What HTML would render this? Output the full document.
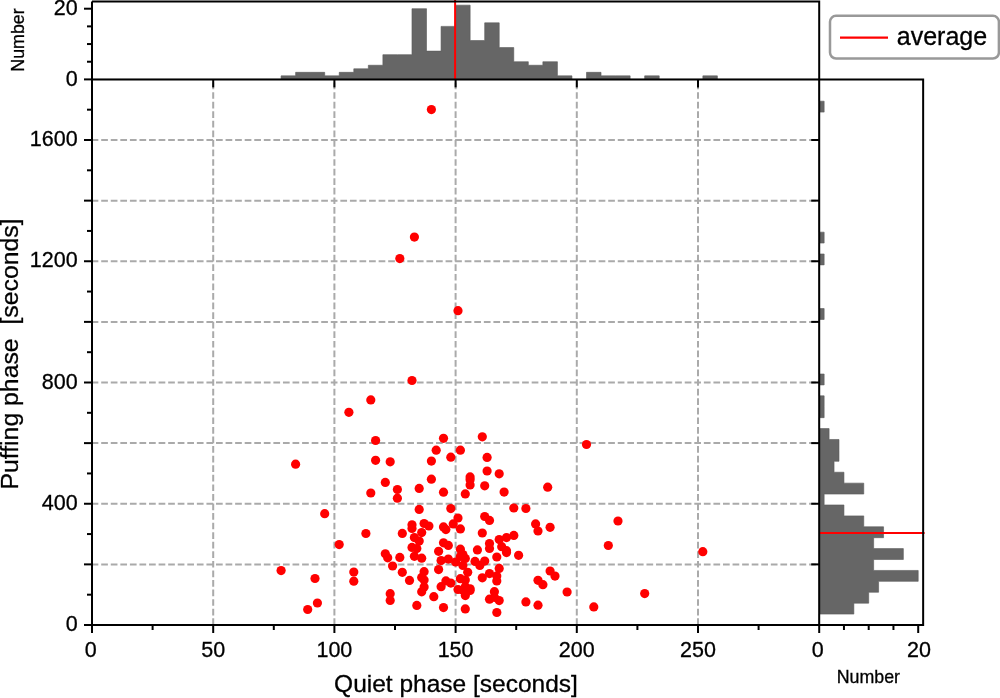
<!DOCTYPE html><html><head><meta charset="utf-8"><style>html,body{margin:0;padding:0;background:#fff;width:1000px;height:698px;overflow:hidden}svg{display:block}text{font-family:"Liberation Sans",sans-serif;fill:#000;stroke:#000;stroke-width:0.3px}svg{will-change:transform}</style></head><body>
<svg width="1000" height="698" viewBox="0 0 1000 698">
<path d="M92.00,79.40V79.40H106.54V79.40H121.09V79.40H135.63V79.40H150.18V79.40H164.72V79.40H179.26V79.40H193.81V79.40H208.35V79.40H222.90V79.40H237.44V79.40H251.98V79.40H266.53V79.40H281.07V75.87H295.62V72.33H310.16V72.33H324.70V75.87H339.25V72.33H353.79V68.80H368.34V65.26H382.88V54.66H397.42V54.66H411.97V8.70H426.51V51.12H441.06V26.38H455.60V5.17H470.14V40.52H484.69V22.84H499.23V47.59H513.78V61.73H528.32V65.26H542.86V61.73H557.41V75.87H571.95V79.40H586.50V72.33H601.04V75.87H615.58V75.87H630.13V79.40H644.67V75.87H659.22V79.40H673.76V79.40H688.30V79.40H702.85V75.87H717.39V79.40H731.94V79.40H746.48V79.40H761.02V79.40H775.57V79.40H790.11V79.40H804.66V79.40H819.20V79.40Z" fill="#666666" stroke="#5a5a5a" stroke-width="0.6"/>
<path d="M819.20,625.00H819.20V614.09H853.85V603.17H868.70V592.26H878.60V581.35H918.20V570.44H873.65V559.52H903.35V548.61H873.65V537.70H883.55V526.79H863.75V515.88H843.95V504.96H824.15V494.05H863.75V483.14H843.95V472.23H834.05V461.31H839.00V450.40H839.00V439.49H829.10V428.58H819.20V417.66H824.15V406.75H824.15V395.84H819.20V384.93H824.15V374.01H819.20V363.10H819.20V352.19H819.20V341.28H819.20V330.36H819.20V319.45H824.15V308.54H819.20V297.62H819.20V286.71H819.20V275.80H819.20V264.89H824.15V253.98H819.20V243.06H824.15V232.15H819.20V221.24H819.20V210.33H819.20V199.41H819.20V188.50H819.20V177.59H819.20V166.68H819.20V155.76H819.20V144.85H819.20V133.94H819.20V123.03H819.20V112.11H824.15V101.20H819.20V90.29H819.20V79.38H819.20Z" fill="#666666" stroke="#5a5a5a" stroke-width="0.6"/>
<g stroke="#aaaaaa" stroke-width="2" stroke-dasharray="6.7 2.866"><line x1="213.20" y1="625.00" x2="213.20" y2="79.40"/><line x1="334.40" y1="625.00" x2="334.40" y2="79.40"/><line x1="455.60" y1="625.00" x2="455.60" y2="79.40"/><line x1="576.80" y1="625.00" x2="576.80" y2="79.40"/><line x1="698.00" y1="625.00" x2="698.00" y2="79.40"/><line x1="91.64" y1="564.38" x2="819.20" y2="564.38"/><line x1="91.64" y1="503.75" x2="819.20" y2="503.75"/><line x1="91.64" y1="443.12" x2="819.20" y2="443.12"/><line x1="91.64" y1="382.50" x2="819.20" y2="382.50"/><line x1="91.64" y1="321.88" x2="819.20" y2="321.88"/><line x1="91.64" y1="261.25" x2="819.20" y2="261.25"/><line x1="91.64" y1="200.63" x2="819.20" y2="200.63"/><line x1="91.64" y1="140.00" x2="819.20" y2="140.00"/></g>
<g fill="#ff0000"><circle cx="431.4" cy="109.6" r="4.6"/><circle cx="414.4" cy="237.1" r="4.6"/><circle cx="399.8" cy="258.6" r="4.6"/><circle cx="458.0" cy="310.7" r="4.6"/><circle cx="412.0" cy="380.5" r="4.6"/><circle cx="370.8" cy="399.9" r="4.6"/><circle cx="348.9" cy="412.3" r="4.6"/><circle cx="375.6" cy="440.5" r="4.6"/><circle cx="586.5" cy="444.5" r="4.6"/><circle cx="295.6" cy="464.2" r="4.6"/><circle cx="375.6" cy="460.3" r="4.6"/><circle cx="390.2" cy="461.8" r="4.6"/><circle cx="385.3" cy="482.4" r="4.6"/><circle cx="397.4" cy="489.5" r="4.6"/><circle cx="370.8" cy="493.0" r="4.6"/><circle cx="397.4" cy="498.2" r="4.6"/><circle cx="443.5" cy="438.3" r="4.6"/><circle cx="436.2" cy="450.2" r="4.6"/><circle cx="460.4" cy="450.2" r="4.6"/><circle cx="450.8" cy="457.2" r="4.6"/><circle cx="431.4" cy="461.1" r="4.6"/><circle cx="431.4" cy="479.2" r="4.6"/><circle cx="470.1" cy="476.9" r="4.6"/><circle cx="470.1" cy="485.0" r="4.6"/><circle cx="419.2" cy="488.4" r="4.6"/><circle cx="443.5" cy="492.2" r="4.6"/><circle cx="465.3" cy="493.9" r="4.6"/><circle cx="482.3" cy="436.8" r="4.6"/><circle cx="487.1" cy="457.4" r="4.6"/><circle cx="487.1" cy="471.0" r="4.6"/><circle cx="499.2" cy="473.8" r="4.6"/><circle cx="484.7" cy="485.8" r="4.6"/><circle cx="504.1" cy="492.1" r="4.6"/><circle cx="547.7" cy="487.2" r="4.6"/><circle cx="324.7" cy="513.7" r="4.6"/><circle cx="365.9" cy="533.5" r="4.6"/><circle cx="339.2" cy="544.6" r="4.6"/><circle cx="385.3" cy="553.8" r="4.6"/><circle cx="387.7" cy="557.8" r="4.6"/><circle cx="392.6" cy="566.0" r="4.6"/><circle cx="399.8" cy="557.4" r="4.6"/><circle cx="419.2" cy="509.4" r="4.6"/><circle cx="412.0" cy="524.8" r="4.6"/><circle cx="412.0" cy="528.5" r="4.6"/><circle cx="424.1" cy="523.5" r="4.6"/><circle cx="428.9" cy="526.0" r="4.6"/><circle cx="421.7" cy="532.6" r="4.6"/><circle cx="402.3" cy="533.4" r="4.6"/><circle cx="414.4" cy="537.6" r="4.6"/><circle cx="419.2" cy="541.0" r="4.6"/><circle cx="450.8" cy="508.6" r="4.6"/><circle cx="458.0" cy="518.0" r="4.6"/><circle cx="453.2" cy="523.9" r="4.6"/><circle cx="443.5" cy="526.9" r="4.6"/><circle cx="445.9" cy="529.6" r="4.6"/><circle cx="460.4" cy="528.9" r="4.6"/><circle cx="513.8" cy="508.0" r="4.6"/><circle cx="484.7" cy="516.5" r="4.6"/><circle cx="489.5" cy="520.4" r="4.6"/><circle cx="482.3" cy="533.0" r="4.6"/><circle cx="499.2" cy="539.6" r="4.6"/><circle cx="506.5" cy="537.6" r="4.6"/><circle cx="513.8" cy="535.4" r="4.6"/><circle cx="525.9" cy="508.5" r="4.6"/><circle cx="535.6" cy="523.9" r="4.6"/><circle cx="538.0" cy="531.0" r="4.6"/><circle cx="550.1" cy="527.3" r="4.6"/><circle cx="618.0" cy="521.0" r="4.6"/><circle cx="608.3" cy="545.5" r="4.6"/><circle cx="702.8" cy="551.7" r="4.6"/><circle cx="644.7" cy="593.6" r="4.6"/><circle cx="567.1" cy="592.0" r="4.6"/><circle cx="593.8" cy="606.9" r="4.6"/><circle cx="281.1" cy="570.6" r="4.6"/><circle cx="315.0" cy="578.5" r="4.6"/><circle cx="317.4" cy="603.0" r="4.6"/><circle cx="307.7" cy="609.5" r="4.6"/><circle cx="353.8" cy="572.0" r="4.6"/><circle cx="353.8" cy="581.2" r="4.6"/><circle cx="402.3" cy="572.3" r="4.6"/><circle cx="409.5" cy="580.4" r="4.6"/><circle cx="412.0" cy="547.4" r="4.6"/><circle cx="416.8" cy="548.6" r="4.6"/><circle cx="414.4" cy="556.3" r="4.6"/><circle cx="421.7" cy="558.2" r="4.6"/><circle cx="438.6" cy="551.3" r="4.6"/><circle cx="424.1" cy="571.7" r="4.6"/><circle cx="421.7" cy="577.4" r="4.6"/><circle cx="424.1" cy="580.0" r="4.6"/><circle cx="424.1" cy="587.1" r="4.6"/><circle cx="421.7" cy="591.8" r="4.6"/><circle cx="443.5" cy="542.8" r="4.6"/><circle cx="448.3" cy="545.4" r="4.6"/><circle cx="460.4" cy="549.2" r="4.6"/><circle cx="477.4" cy="549.9" r="4.6"/><circle cx="462.9" cy="554.5" r="4.6"/><circle cx="465.3" cy="558.5" r="4.6"/><circle cx="455.6" cy="562.0" r="4.6"/><circle cx="448.3" cy="559.1" r="4.6"/><circle cx="441.1" cy="560.6" r="4.6"/><circle cx="462.9" cy="565.4" r="4.6"/><circle cx="467.7" cy="572.3" r="4.6"/><circle cx="475.0" cy="561.4" r="4.6"/><circle cx="479.8" cy="565.4" r="4.6"/><circle cx="484.7" cy="561.1" r="4.6"/><circle cx="460.4" cy="578.7" r="4.6"/><circle cx="465.3" cy="580.0" r="4.6"/><circle cx="438.6" cy="569.6" r="4.6"/><circle cx="489.5" cy="543.5" r="4.6"/><circle cx="489.5" cy="548.4" r="4.6"/><circle cx="501.7" cy="546.7" r="4.6"/><circle cx="506.5" cy="550.7" r="4.6"/><circle cx="496.8" cy="557.0" r="4.6"/><circle cx="518.6" cy="555.3" r="4.6"/><circle cx="499.2" cy="568.4" r="4.6"/><circle cx="489.5" cy="573.6" r="4.6"/><circle cx="482.3" cy="577.8" r="4.6"/><circle cx="550.1" cy="571.0" r="4.6"/><circle cx="555.0" cy="576.1" r="4.6"/><circle cx="538.0" cy="580.3" r="4.6"/><circle cx="542.9" cy="584.7" r="4.6"/><circle cx="390.2" cy="593.7" r="4.6"/><circle cx="390.2" cy="600.4" r="4.6"/><circle cx="416.8" cy="605.4" r="4.6"/><circle cx="433.8" cy="596.7" r="4.6"/><circle cx="445.9" cy="580.9" r="4.6"/><circle cx="450.8" cy="583.1" r="4.6"/><circle cx="441.1" cy="586.7" r="4.6"/><circle cx="458.0" cy="589.5" r="4.6"/><circle cx="470.1" cy="588.8" r="4.6"/><circle cx="465.3" cy="595.6" r="4.6"/><circle cx="443.5" cy="607.6" r="4.6"/><circle cx="465.3" cy="608.9" r="4.6"/><circle cx="496.8" cy="575.9" r="4.6"/><circle cx="496.8" cy="580.9" r="4.6"/><circle cx="494.4" cy="591.7" r="4.6"/><circle cx="489.5" cy="599.2" r="4.6"/><circle cx="499.2" cy="600.6" r="4.6"/><circle cx="496.8" cy="612.5" r="4.6"/><circle cx="525.9" cy="601.9" r="4.6"/><circle cx="538.0" cy="605.2" r="4.6"/><circle cx="465.3" cy="586.7" r="4.6"/><circle cx="460.4" cy="556.4" r="4.6"/><circle cx="470.1" cy="479.7" r="4.6"/><circle cx="506.5" cy="552.6" r="4.6"/><circle cx="470.1" cy="590.5" r="4.6"/><circle cx="462.9" cy="590.2" r="4.6"/><circle cx="494.4" cy="597.3" r="4.6"/></g>
<line x1="455.1" y1="-1" x2="455.1" y2="79.40" stroke="#ff0000" stroke-width="2"/>
<line x1="819.20" y1="532.9" x2="924.6" y2="532.9" stroke="#ff0000" stroke-width="2"/>
<g stroke="#000" stroke-width="2" fill="none"><path d="M92,1.5 H819.2 V625.0 M92,1.5 V625.0 H923.15 V79.4 H92" fill="none"/><line x1="84" y1="625.00" x2="92" y2="625.00"/><line x1="87" y1="594.69" x2="92" y2="594.69"/><line x1="84" y1="564.38" x2="92" y2="564.38"/><line x1="87" y1="534.06" x2="92" y2="534.06"/><line x1="84" y1="503.75" x2="92" y2="503.75"/><line x1="87" y1="473.44" x2="92" y2="473.44"/><line x1="84" y1="443.12" x2="92" y2="443.12"/><line x1="87" y1="412.81" x2="92" y2="412.81"/><line x1="84" y1="382.50" x2="92" y2="382.50"/><line x1="87" y1="352.19" x2="92" y2="352.19"/><line x1="84" y1="321.88" x2="92" y2="321.88"/><line x1="87" y1="291.56" x2="92" y2="291.56"/><line x1="84" y1="261.25" x2="92" y2="261.25"/><line x1="87" y1="230.94" x2="92" y2="230.94"/><line x1="84" y1="200.63" x2="92" y2="200.63"/><line x1="87" y1="170.31" x2="92" y2="170.31"/><line x1="84" y1="140.00" x2="92" y2="140.00"/><line x1="87" y1="109.69" x2="92" y2="109.69"/><line x1="811.2" y1="564.38" x2="819.2" y2="564.38"/><line x1="811.2" y1="503.75" x2="819.2" y2="503.75"/><line x1="811.2" y1="443.12" x2="819.2" y2="443.12"/><line x1="811.2" y1="382.50" x2="819.2" y2="382.50"/><line x1="811.2" y1="321.88" x2="819.2" y2="321.88"/><line x1="811.2" y1="261.25" x2="819.2" y2="261.25"/><line x1="811.2" y1="200.63" x2="819.2" y2="200.63"/><line x1="811.2" y1="140.00" x2="819.2" y2="140.00"/><line x1="92.00" y1="625.0" x2="92.00" y2="633.0"/><line x1="152.60" y1="625.0" x2="152.60" y2="630.0"/><line x1="213.20" y1="625.0" x2="213.20" y2="633.0"/><line x1="273.80" y1="625.0" x2="273.80" y2="630.0"/><line x1="334.40" y1="625.0" x2="334.40" y2="633.0"/><line x1="395.00" y1="625.0" x2="395.00" y2="630.0"/><line x1="455.60" y1="625.0" x2="455.60" y2="633.0"/><line x1="516.20" y1="625.0" x2="516.20" y2="630.0"/><line x1="576.80" y1="625.0" x2="576.80" y2="633.0"/><line x1="637.40" y1="625.0" x2="637.40" y2="630.0"/><line x1="698.00" y1="625.0" x2="698.00" y2="633.0"/><line x1="758.60" y1="625.0" x2="758.60" y2="630.0"/><line x1="213.20" y1="79.4" x2="213.20" y2="87.4"/><line x1="334.40" y1="79.4" x2="334.40" y2="87.4"/><line x1="455.60" y1="79.4" x2="455.60" y2="87.4"/><line x1="576.80" y1="79.4" x2="576.80" y2="87.4"/><line x1="698.00" y1="79.4" x2="698.00" y2="87.4"/><line x1="84" y1="79.40" x2="92" y2="79.40"/><line x1="87" y1="61.73" x2="92" y2="61.73"/><line x1="87" y1="44.05" x2="92" y2="44.05"/><line x1="87" y1="26.38" x2="92" y2="26.38"/><line x1="84" y1="8.70" x2="92" y2="8.70"/><line x1="819.20" y1="625.0" x2="819.20" y2="633.0"/><line x1="843.95" y1="625.0" x2="843.95" y2="630.0"/><line x1="868.70" y1="625.0" x2="868.70" y2="630.0"/><line x1="893.45" y1="625.0" x2="893.45" y2="630.0"/><line x1="918.20" y1="625.0" x2="918.20" y2="633.0"/></g>
<text x="77.7" y="631.10" text-anchor="end" font-size="21.5">0</text><text x="77.7" y="509.85" text-anchor="end" font-size="21.5">400</text><text x="77.7" y="388.60" text-anchor="end" font-size="21.5">800</text><text x="77.7" y="267.35" text-anchor="end" font-size="21.5">1200</text><text x="77.7" y="146.10" text-anchor="end" font-size="21.5">1600</text><text x="90.80" y="656.5" text-anchor="middle" font-size="21.5">0</text><text x="213.20" y="656.5" text-anchor="middle" font-size="21.5">50</text><text x="334.40" y="656.5" text-anchor="middle" font-size="21.5">100</text><text x="455.60" y="656.5" text-anchor="middle" font-size="21.5">150</text><text x="576.80" y="656.5" text-anchor="middle" font-size="21.5">200</text><text x="698.00" y="656.5" text-anchor="middle" font-size="21.5">250</text><text x="77.7" y="85.50" text-anchor="end" font-size="21.5">0</text><text x="77.7" y="14.80" text-anchor="end" font-size="21.5">20</text><text x="817.85" y="656.5" text-anchor="middle" font-size="21.5">0</text><text x="919.00" y="656.5" text-anchor="middle" font-size="21.5">20</text>
<text x="456" y="692.3" text-anchor="middle" font-size="24.5">Quiet phase [seconds]</text>
<text transform="translate(18,354) rotate(-90)" text-anchor="middle" font-size="24.8" xml:space="preserve">Puffing phase  [seconds]</text>
<text transform="translate(24.1,40) rotate(-90)" text-anchor="middle" font-size="17.8">Number</text>
<text x="868.4" y="682.5" text-anchor="middle" font-size="17.8">Number</text>
<rect x="830.0" y="15.8" width="168.9" height="42.7" rx="6" ry="6" fill="#fff" stroke="#999" stroke-width="2.5"/>
<line x1="840" y1="37.6" x2="888" y2="37.6" stroke="#ff0000" stroke-width="2.4"/>
<text x="896.8" y="44.5" font-size="25">average</text>
</svg></body></html>
